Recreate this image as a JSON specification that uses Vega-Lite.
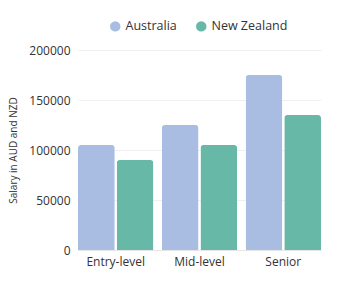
{
  "$schema": "https://vega.github.io/schema/vega-lite/v6.json",
  "width": 243,
  "height": 200,
  "autosize": {"type": "none"},
  "padding": {"left": 78, "top": 50, "right": 19, "bottom": 35},
  "background": "white",
  "data": {
    "values": [
      {"level": "Entry-level", "country": "Australia", "salary": 105000},
      {"level": "Entry-level", "country": "New Zealand", "salary": 90000},
      {"level": "Mid-level", "country": "Australia", "salary": 125000},
      {"level": "Mid-level", "country": "New Zealand", "salary": 105000},
      {"level": "Senior", "country": "Australia", "salary": 175000},
      {"level": "Senior", "country": "New Zealand", "salary": 135000}
    ]
  },
  "mark": {"type": "bar", "cornerRadiusTopLeft": 3, "cornerRadiusTopRight": 3},
  "encoding": {
    "x": {
      "field": "level",
      "type": "nominal",
      "sort": ["Entry-level", "Mid-level", "Senior"],
      "scale": {"paddingInner": 0.1, "paddingOuter": 0},
      "axis": {"title": null, "labelAngle": 0, "domain": true, "domainColor": "#e6e6e6", "ticks": false, "labelPadding": 6, "labelFontSize": 12, "labelColor": "#333333"}
    },
    "xOffset": {
      "field": "country",
      "type": "nominal",
      "scale": {"paddingInner": 0.05}
    },
    "y": {
      "field": "salary",
      "type": "quantitative",
      "scale": {"domain": [0, 200000]},
      "axis": {
        "title": "Salary in AUD and NZD",
        "titleFontSize": 10,
        "titleFontWeight": "normal",
        "titleColor": "#333333",
        "titlePadding": 10,
        "values": [0, 50000, 100000, 150000, 200000],
        "format": "d",
        "domain": false,
        "ticks": false,
        "labelPadding": 8,
        "labelFontSize": 12,
        "labelColor": "#333333",
        "gridColor": "#f0f0f0"
      }
    },
    "color": {
      "field": "country",
      "type": "nominal",
      "scale": {"domain": ["Australia", "New Zealand"], "range": ["#a9bde3", "#68b8a8"]},
      "legend": {
        "title": null,
        "orient": "none",
        "direction": "horizontal",
        "legendX": 31,
        "legendY": -30,
        "symbolType": "circle",
        "symbolSize": 110,
        "symbolStrokeWidth": 0,
        "labelFontSize": 12.5,
        "labelColor": "#333333",
        "columnPadding": 18
      }
    }
  },
  "config": {
    "font": "Open Sans",
    "view": {"stroke": null}
  }
}
